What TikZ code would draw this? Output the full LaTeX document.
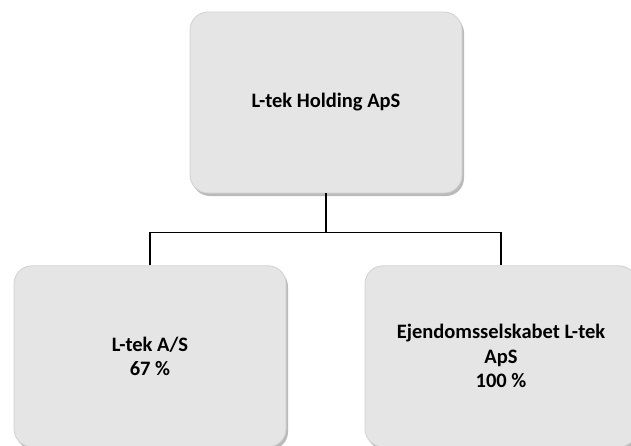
\documentclass[tikz,border=0pt]{standalone}
\usepackage{fontspec}
\setmainfont{Carlito}
\usepackage{tikz}
\usetikzlibrary{positioning,shadows}
\usepackage{xcolor}

\begin{document}
\begin{tikzpicture}[
    x=1pt, y=-1pt,
    node distance=72pt,
    entity/.style={
        rectangle,
        draw=black!18,
        fill=black!10,
        line width=0.8pt,
        minimum width=272pt,
        minimum height=181pt,
        align=center,
        rounded corners=18pt,
        font=\fontsize{20.5}{24.5}\selectfont\bfseries,
        drop shadow={shadow xshift=2pt, shadow yshift=-3pt, fill=black!45, opacity=0.6}
    },
    link/.style={
        line width=1.4pt,
        draw=black
    }
]

    \useasboundingbox (0,0) rectangle (631,445);
    \clip (0,0) rectangle (631,445);

    % Nodes
    \node (holding) [entity] at (326,102.5) {L-tek Holding ApS};
    \node (ltek)    [entity, below=of holding, xshift=-176pt] {L-tek A/S\\67 \%};
    \node (ejendom) [entity, below=of holding, xshift=175pt]  {Ejendomsselskabet L-tek\\ApS\\100 \%};

    % Connectors
    \coordinate (split) at ([yshift=-39pt]holding.south);
    \draw [link] (holding.south) -- (split);
    \draw [link] (split) -| (ltek.north);
    \draw [link] (split) -| (ejendom.north);

\end{tikzpicture}
\end{document}
